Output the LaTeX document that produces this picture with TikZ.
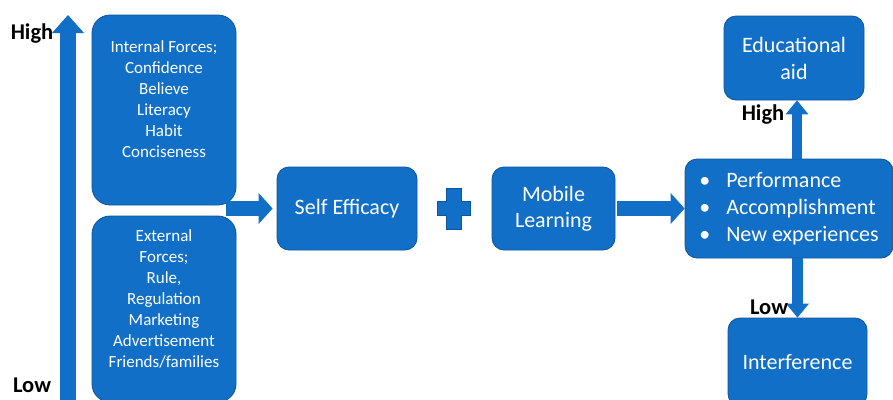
\documentclass[tikz,border=0pt]{standalone}
\usepackage{fontspec}
\setmainfont{Carlito}
\usetikzlibrary{arrows.meta}
\definecolor{boxblue}{RGB}{17,111,199}
\definecolor{boxedge}{RGB}{14,84,154}

\begin{document}
\begin{tikzpicture}[x=1pt, y=-1pt,
    box/.style={draw=boxedge, line width=0.8pt, fill=boxblue, text=white, align=center, inner sep=0pt, rounded corners=12pt},
    tall/.style={box, rounded corners=18pt, minimum width=144pt, font=\fontsize{17}{21}\selectfont},
    big/.style={box, font=\fontsize{22}{26.5}\selectfont},
    lbl/.style={font=\fontsize{22.5}{26}\selectfont\bfseries, inner sep=0pt},
    fat/.style={boxblue, line width=15pt, -{Triangle[width=31pt, length=14pt, line width=0pt]}},
    thin/.style={boxblue, line width=10.5pt, -{Triangle[width=23pt, length=14pt, line width=0pt]}}
  ]
  \useasboundingbox (0,0) rectangle (893,399);

  \coordinate (axislow) at (68,410);
  \coordinate (axishigh) at (68,15);
  \draw[boxblue, line width=16pt, -{Triangle[width=32pt, length=18pt, line width=0pt]}] (axislow) -- (axishigh);
  \node[lbl] (highleft) at (32,34) {High};
  \node[lbl] (lowleft) at (32,385) {Low};

  \node[tall, minimum height=190pt] (inner) at (164,110)
    {Internal Forces;\\ Confidence\\ Believe\\ Literacy\\ Habit\\ Conciseness\\ \mbox{}};
  \node[tall, minimum height=186pt] (outer) at (164,309)
    {External\\ Forces;\\ Rule,\\ Regulation\\ Marketing\\ Advertisement\\ Friends/families\\ \mbox{}};

  \node[big, minimum width=140pt, minimum height=83pt] (self) at (347,208.5) {Self Efficacy};
  \node[big, minimum width=123pt, minimum height=83pt, font=\fontsize{22}{26}\selectfont] (mobile) at (553.5,208.5) {Mobile\\ Learning};
  \node[big, minimum width=208pt, minimum height=99pt, align=left, font=\fontsize{22}{27}\selectfont] (result) at (789,208.5)
    {\makebox[27pt][l]{\textbullet}Performance\\ \makebox[27pt][l]{\textbullet}Accomplishment\\ \makebox[27pt][l]{\textbullet}New experiences};
  \node[big, minimum width=140pt, minimum height=84pt, font=\fontsize{22}{27}\selectfont] (edu) at (794,58) {Educational\\ aid};
  \node[big, minimum width=139pt, minimum height=88pt] (inter) at (797.5,362) {Interference};

  \draw[fill=boxblue, draw=boxedge, line width=0.8pt]
    (437,201) -- (446,201) -- (446,188) -- (461,188) -- (461,201) -- (470,201) -- (470,215)
    -- (461,215) -- (461,229) -- (446,229) -- (446,215) -- (437,215) -- cycle;

  \draw[fat] ([xshift=-10pt]self.west -| inner.east) -- ([xshift=-4pt]self.west);
  \draw[fat] ([xshift=2pt]mobile.east) -- (result.west);
  \draw[thin] ([xshift=8pt]result.north) -- ([xshift=8pt]result.north |- edu.south);
  \draw[thin] (inter.north |- result.south) -- (inter.north);

  \node[lbl] (highright) at (763,115) {High};
  \node[lbl] (lowright) at (769,307) {Low};
\end{tikzpicture}
\end{document}
